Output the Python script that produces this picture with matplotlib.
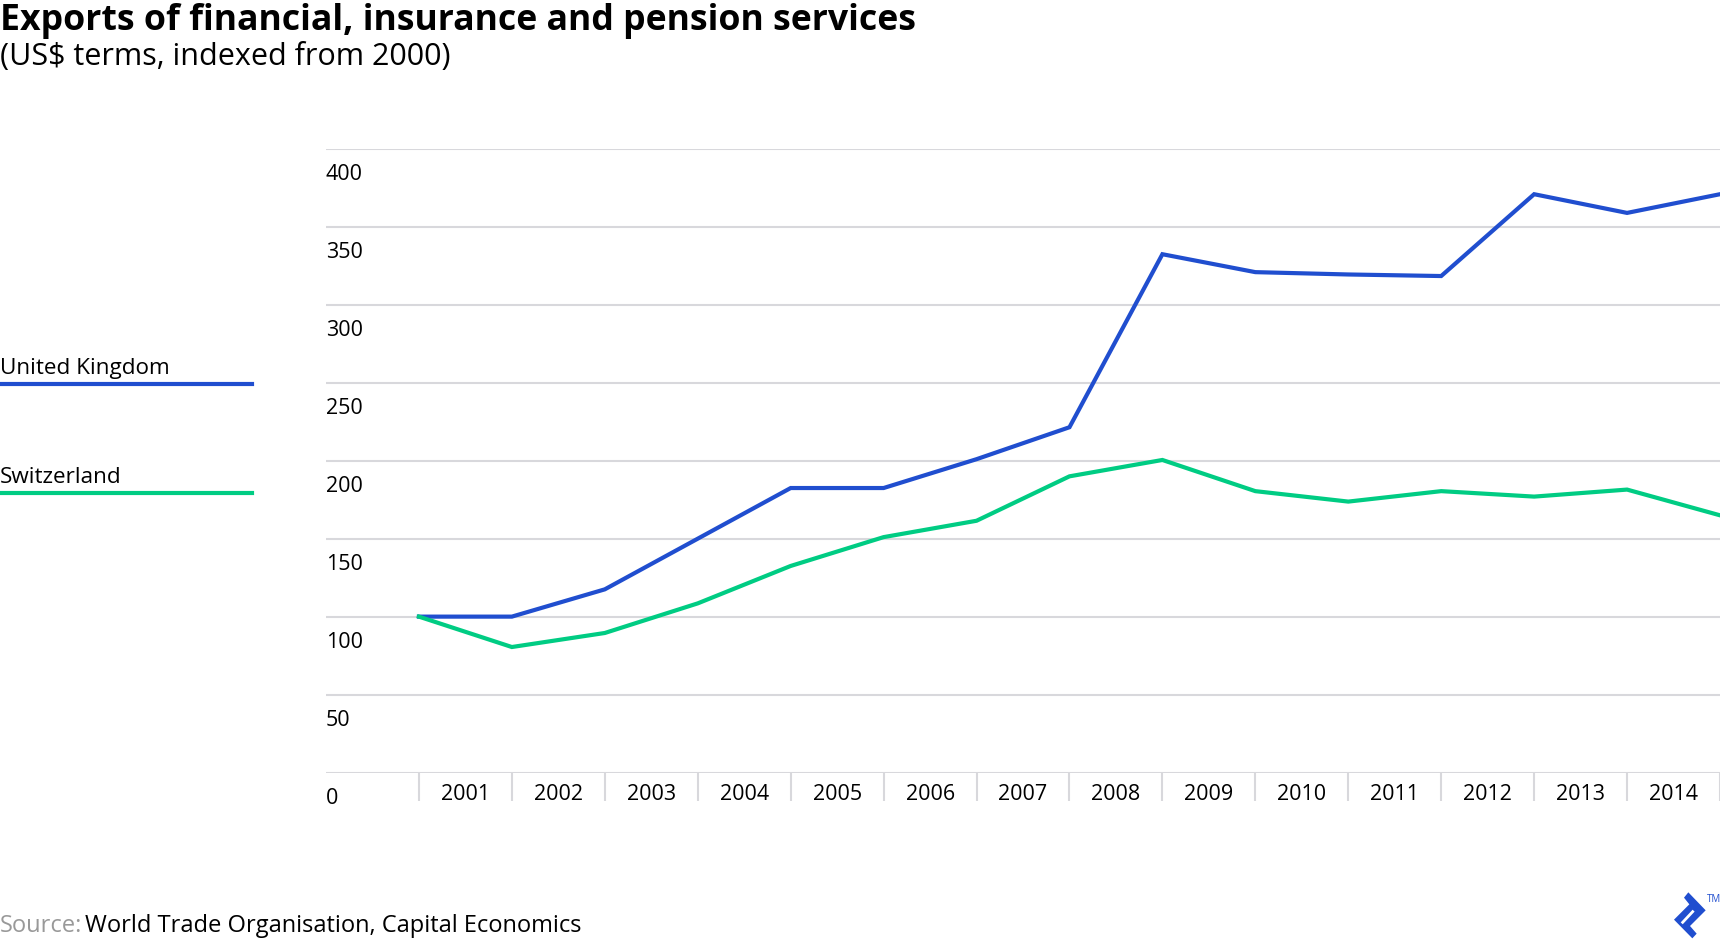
import matplotlib.pyplot as plt
import matplotlib.transforms as mtransforms
from matplotlib.lines import Line2D
from matplotlib.patches import Polygon
import numpy as np

plt.rcParams["font.family"] = ["Open Sans", "DejaVu Sans"]

# ---------------------------------------------
# Daten (Index 2000 = 100)
# ---------------------------------------------
years = list(range(2000, 2015))
uk = [100, 100, 117.5, 150, 182.5, 182.5, 201, 221.5, 332.5, 321, 319.5, 318.5, 371, 359, 371]
swiss = [100, 80.5, 89.5, 108.5, 132.5, 151, 161.5, 190, 200.5, 180.5, 173.8, 180.5, 177, 181.5, 165]
y_ticks = [0, 50, 100, 150, 200, 250, 300, 350, 400]

BLUE = "#204ecf"
GREEN = "#00cc83"
GRID = "#d8d8dc"

W, H = 1720, 940
fig = plt.figure(figsize=(W / 100, H / 100), dpi=100)

# Achsen in Pixeln: links 326, rechts 1720, oben 149, unten 772.5
ax = fig.add_axes([326 / W, 1 - 772.5 / H, (1720 - 326) / W, (772.5 - 149) / H])
x = np.arange(len(years))
ax.set_xlim(-1, len(years) - 1)
ax.set_ylim(0, 400)
for s in ax.spines.values():
    s.set_visible(False)

for v in y_ticks:
    ax.axhline(v, color=GRID, lw=1.5, zorder=1)

ax.plot(x, uk, color=BLUE, lw=3, solid_joinstyle="miter", zorder=3, clip_on=False)
ax.plot(x, swiss, color=GREEN, lw=3, solid_joinstyle="miter", zorder=3, clip_on=False)

# Trennstriche unter der Achse
ax.set_xticks(x)
ax.set_xticklabels([])
ax.tick_params(axis="x", which="major", length=20, width=1.5, color=GRID, direction="out")
ax.set_xticks(x[1:] - 0.5, minor=True)
ax.set_xticklabels([str(y) for y in years[1:]], minor=True, fontsize=15.5)
ax.tick_params(axis="x", which="minor", length=0, pad=8)
ax.set_yticks([])

# y-Beschriftung links unter der Gitterlinie
trans = mtransforms.blended_transform_factory(ax.transAxes, ax.transData)
for v in y_ticks:
    ax.annotate(str(v), xy=(0, v), xycoords=trans, xytext=(0, -26 * 0.72),
                textcoords="offset points", ha="left", va="center", fontsize=15.5)

# Titel
fig.text(0, 1 - 30 / H, "Exports of financial, insurance and pension services",
         fontsize=25.7, fontweight="bold", va="baseline", ha="left")
fig.text(0, 1 - 65 / H, "(US$ terms, indexed from 2000)", fontsize=22,
         va="baseline", ha="left")

# Legende links
for label, col, yb, yl in [("United Kingdom", BLUE, 374, 384), ("Switzerland", GREEN, 483, 493)]:
    fig.text(0, 1 - yb / H, label, fontsize=16.2, va="baseline", ha="left")
    fig.add_artist(Line2D([0, 252 / W], [1 - yl / H, 1 - yl / H], color=col, lw=3))

# Quelle
src = fig.text(0, 1 - 932 / H, "Source:", fontsize=17, color="#999999", va="baseline", ha="left")
fig.canvas.draw()
bb = src.get_window_extent()
fig.text(bb.x1 / W + 3 / W, 1 - 932 / H, "World Trade Organisation, Capital Economics",
         fontsize=17, color="black", va="baseline", ha="left")

# Logo (vereinfacht)
def px(zx, zy):
    return ((1660 + zx / 3) / W, 1 - (885 + zy / 3) / H)

logo = [(85, 22), (137, 76), (90, 123), (110, 146), (97, 160), (42, 104), (88, 58), (72, 38)]
fig.add_artist(Polygon([px(*p) for p in logo], closed=True, color=BLUE, lw=0))
fig.add_artist(Line2D([px(68, 112)[0], px(98, 80)[0]], [px(68, 112)[1], px(98, 80)[1]],
                      color="white", lw=2))
fig.text(1707 / W, 1 - 902 / H, "TM", fontsize=7, color=BLUE, va="baseline", ha="left")

fig.savefig("out.png", dpi=100)
print("Plot erstellt")
